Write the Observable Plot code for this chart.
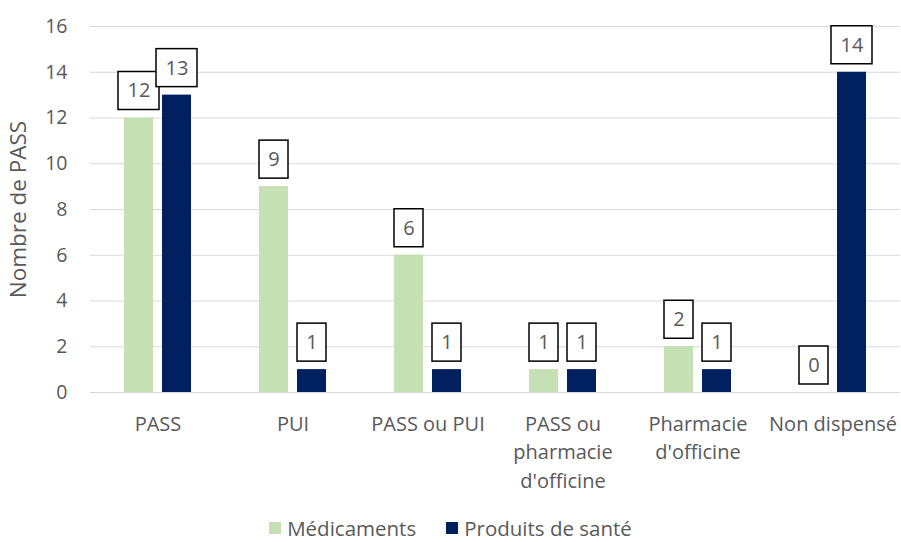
<!DOCTYPE html>
<html>
<head>
<meta charset="utf-8">
<script src="https://cdn.jsdelivr.net/npm/d3@7"></script>
<script src="https://cdn.jsdelivr.net/npm/@observablehq/plot@0.6"></script>
<style>
  html, body { margin: 0; padding: 0; background: #fff; }
  #chart { width: 901px; font-family: "Open Sans", sans-serif; }
  #chart svg g[aria-label="y-axis label"] text { font-size: 22.5px; }
  .legend { display: flex; justify-content: center; gap: 30px; height: 42px; align-items: center; padding-top: 14px; box-sizing: border-box; font-size: 20.5px; line-height: 1; color: #595959; }
  .legend span.item { display: inline-flex; align-items: center; }
  .legend span.sw { width: 12px; height: 12px; display: inline-block; margin-right: 6px; }
</style>
</head>
<body>
<div id="chart"></div>
<script>
const categories = ["PASS", "PUI", "PASS ou PUI", "PASS ou pharmacie d'officine", "Pharmacie d'officine", "Non dispensé"];
const tickLabels = ["PASS", "PUI", "PASS ou PUI", "PASS ou\npharmacie\nd'officine", "Pharmacie\nd'officine", "Non dispensé"];
const series = ["Médicaments", "Produits de santé"];
const medicaments = [12, 9, 6, 1, 2, 0];
const produits = [13, 1, 1, 1, 1, 14];
const colors = ["#C5E0B4", "#002060"];
const yTicks = [0, 2, 4, 6, 8, 10, 12, 14, 16];

const data = [];
categories.forEach((c, i) => {
  data.push({category: c, series: series[0], value: medicaments[i]});
  data.push({category: c, series: series[1], value: produits[i]});
});
const oneDigit = data.filter(d => String(d.value).length === 1);
const twoDigit = data.filter(d => String(d.value).length === 2);

const txt = "#595959";
const chart = Plot.plot({
  width: 901,
  height: 500,
  marginTop: 26,
  marginBottom: 108,
  marginLeft: 90,
  marginRight: 1,
  style: {fontFamily: "'Open Sans', sans-serif", color: txt, background: "#fff"},
  fx: {domain: categories, padding: 0, label: null},
  x: {domain: series, paddingInner: 0.23, paddingOuter: 0.85, axis: null},
  y: {domain: [0, 16], label: null},
  color: {domain: series, range: colors},
  marks: [
    Plot.gridY(yTicks, {stroke: "#D9D9D9", strokeOpacity: 1, strokeWidth: 1.2}),
    Plot.axisY({ticks: yTicks, tickSize: 0, tickPadding: 23, fontSize: 19.5, color: txt,
      label: "Nombre de PASS", labelAnchor: "center", labelOffset: 80, labelArrow: "none"}),
    Plot.axisFx({anchor: "bottom", tickSize: 0, tickPadding: 18, fontSize: 20, lineHeight: 1.43, color: txt,
      tickFormat: (d) => tickLabels[categories.indexOf(d)], label: null, lineAnchor: "top"}),
    Plot.barY(data, {fx: "category", x: "series", y: "value", fill: "series"}),
    Plot.barY(oneDigit, {fx: "category", x: "series", y1: "value", y2: "value",
      insetTop: -46, insetBottom: 8, insetLeft: 0, insetRight: 0,
      fill: "white", stroke: "black", strokeWidth: 1.5}),
    Plot.barY(twoDigit, {fx: "category", x: "series", y1: "value", y2: "value",
      insetTop: -46, insetBottom: 8, insetLeft: -6, insetRight: -6,
      fill: "white", stroke: "black", strokeWidth: 1.5}),
    Plot.text(data, {fx: "category", x: "series", y: "value", text: d => String(d.value),
      dy: -27, fontSize: 20, fill: txt})
  ]
});
document.getElementById("chart").appendChild(chart);

const legend = document.createElement("div");
legend.className = "legend";
series.forEach((s, i) => {
  const item = document.createElement("span");
  item.className = "item";
  const sw = document.createElement("span");
  sw.className = "sw";
  sw.style.background = colors[i];
  item.appendChild(sw);
  item.appendChild(document.createTextNode(s));
  legend.appendChild(item);
});
document.getElementById("chart").appendChild(legend);
</script>
</body>
</html>
